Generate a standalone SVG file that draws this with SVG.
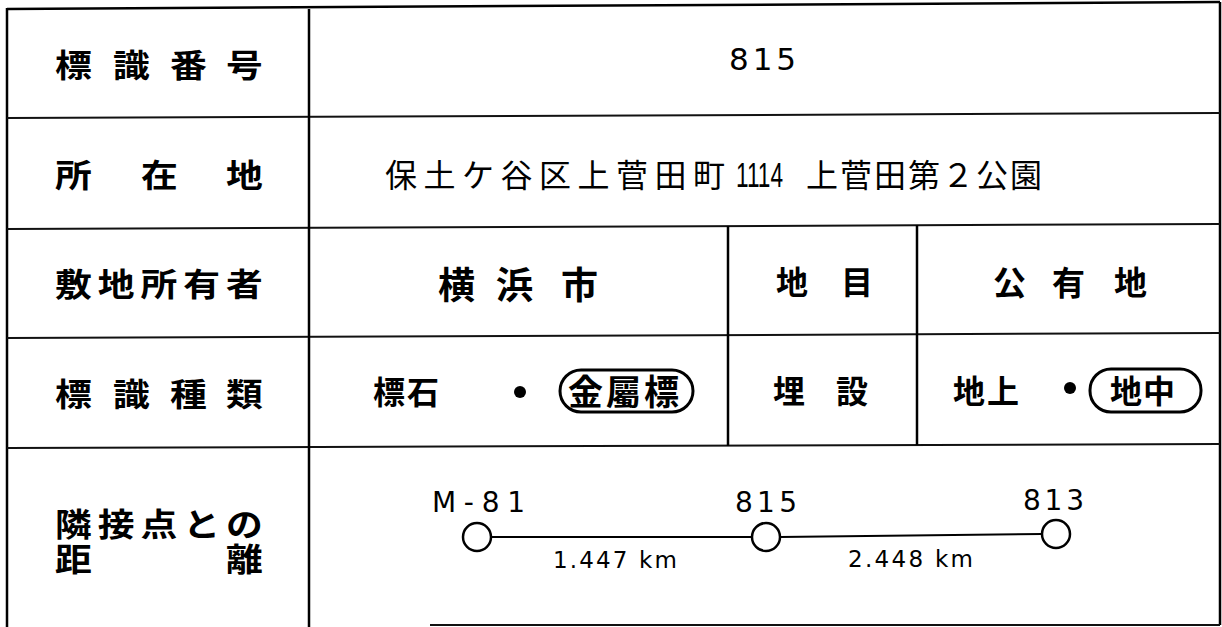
<svg xmlns="http://www.w3.org/2000/svg" width="1222" height="627" viewBox="0 0 1222 627">
<style>
.ln{stroke:#000;stroke-width:2.5;fill:none}
.hl{stroke:#111;stroke-width:2;fill:none}
.lbl{font-family:"Noto Sans CJK JP",sans-serif;font-size:32px;font-weight:700;fill:#000}
.val{font-family:"Noto Sans CJK JP",sans-serif;font-weight:700;fill:#000}
.adr{font-family:"Noto Sans CJK JP",sans-serif;font-size:32px;font-weight:400;fill:#000}
.num{font-family:"DejaVu Sans","Liberation Sans",sans-serif;fill:#000}
.dig{font-family:"Liberation Sans",sans-serif;fill:#000}
.pill{fill:none;stroke:#000;stroke-width:3}
.node{fill:#fff;stroke:#000;stroke-width:2.5}
</style>
<rect width="1222" height="627" fill="#fff"/>

<g id="frame">
<path class="ln" d="M7 9 L1220 2"/>
<path class="ln" d="M7 8 V627"/>
<path class="ln" d="M1220 2 V625"/>
<path class="hl" d="M430 625 H1220"/>
<path class="hl" d="M7 118 L1220 113"/>
<path class="hl" d="M7 229 L1220 224"/>
<path class="hl" d="M7 338 L1220 333"/>
<path class="hl" d="M7 448 L1220 444"/>
<path class="ln" d="M309 9 V627"/>
<path class="ln" d="M728 226 V446"/>
<path class="ln" d="M917 225 V445"/>
</g>

<g id="row1">
<text class="lbl" transform="scale(1.15 1)" x="47.8 98.3 147.8 196.5" y="77">標識番号</text>
<text class="num" x="729" y="70" font-size="31" textLength="67" lengthAdjust="spacing">815</text>
</g>

<g id="row2">
<text class="lbl" transform="scale(1.15 1)" x="47.8 122.6 196.5" y="187">所在地</text>
<text class="adr" x="385 423.5 462 500.5 539 577.5 616 654.5 693" y="187">保土ケ谷区上菅田町</text>
<text class="dig" x="736" y="187" font-size="35" textLength="47" lengthAdjust="spacingAndGlyphs">1114</text>
<text class="adr" x="806 840 874 908 942 976 1010" y="187">上菅田第２公園</text>
</g>

<g id="row3">
<text class="lbl" transform="scale(1.15 1)" x="47.8 85 122.2 159.3 196.5" y="296">敷地所有者</text>
<text class="val" font-size="37" x="438 496 561" y="299">横浜市</text>
<text class="val" font-size="32" x="776 841" y="294">地目</text>
<text class="val" font-size="33" x="993 1052 1114" y="295">公有地</text>
</g>

<g id="row4">
<text class="lbl" transform="scale(1.15 1)" x="47.8 98.3 147.8 196.5" y="406">標識種類</text>
<text class="val" font-size="32" x="373 407" y="404">標石</text>
<circle cx="520" cy="392" r="6" fill="#000"/>
<rect class="pill" x="560" y="370" width="133" height="42" rx="21"/>
<text class="val" font-size="35" x="568 606 644" y="405">金屬標</text>
<text class="val" font-size="32" x="773 836" y="403">埋設</text>
<text class="val" font-size="32" x="953 987" y="403">地上</text>
<circle cx="1070" cy="388" r="6" fill="#000"/>
<rect class="pill" x="1090" y="369" width="111" height="43" rx="21"/>
<text class="val" font-size="32" x="1110 1143" y="403">地中</text>
</g>

<g id="row5">
<text class="lbl" transform="scale(1.15 1)"><tspan x="47.8 85 122.2 159.3 196.5" y="536">隣接点との</tspan><tspan x="47.8 196.5" y="571">距離</tspan></text>
</g>

<g id="connectors">
<path d="M491 537 L752 537" stroke="#000" stroke-width="2"/>
<path d="M780 537 L1042 534" stroke="#000" stroke-width="2"/>
</g>

<g id="node-M81">
<circle class="node" cx="477" cy="537" r="14"/>
<text class="num" x="432" y="512" font-size="28" textLength="93" lengthAdjust="spacing">M-81</text>
</g>
<g id="node-815">
<circle class="node" cx="766" cy="537" r="14"/>
<text class="num" x="735" y="512" font-size="28" textLength="62" lengthAdjust="spacing">815</text>
</g>
<g id="node-813">
<circle class="node" cx="1056" cy="534" r="14"/>
<text class="num" x="1023" y="510" font-size="28" textLength="61" lengthAdjust="spacing">813</text>
</g>
<g id="edge-labels">
<text class="num" x="553" y="568" font-size="23" textLength="124" lengthAdjust="spacing">1.447 km</text>
<text class="num" x="848" y="567" font-size="23" textLength="125" lengthAdjust="spacing">2.448 km</text>
</g>
</svg>
